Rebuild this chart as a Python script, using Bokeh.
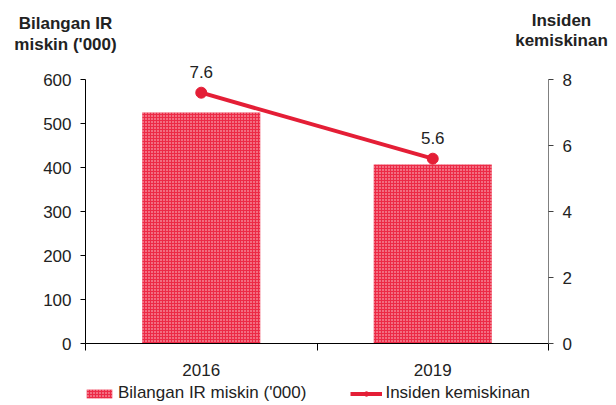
from bokeh.plotting import figure
from bokeh.models import (Range1d, LinearAxis, FixedTicker, Legend, LegendItem,
                          Label, LabelSet, ColumnDataSource)
from bokeh.core.properties import value
from bokeh.embed import file_html
from bokeh.resources import INLINE

categories = ["2016", "2019"]
bilangan = [525, 407]          # Bilangan IR miskin ('000)
insiden = [7.6, 5.6]           # Insiden kemiskinan (%)
left_ticks = [0, 100, 200, 300, 400, 500, 600]
right_ticks = [0, 2, 4, 6, 8]
left_title = ["Bilangan IR", "miskin ('000)"]
right_title = ["Insiden", "kemiskinan"]
legend_labels = ["Bilangan IR miskin ('000)", "Insiden kemiskinan"]

FONT = "Liberation Sans"
RED = "#e41e36"
TXT = "#222222"

W, H = 616, 405
# pixel layout of the plotting area (frame covers the whole canvas)
X0, X1 = 85, 548      # px of category range start/end
Y0, Y1 = 343, 79      # px of value 0 and of top tick

ncat = len(categories)
sx = (X1 - X0) / ncat
x_range = Range1d(-X0 / sx, ncat + (W - X1) / sx)
lspan = left_ticks[-1] - left_ticks[0]
ly = (Y0 - Y1) / lspan
y_range = Range1d(left_ticks[0] - (H - Y0) / ly, left_ticks[-1] + Y1 / ly)
rspan = right_ticks[-1] - right_ticks[0]
ry = (Y0 - Y1) / rspan
r_range = Range1d(right_ticks[0] - (H - Y0) / ry, right_ticks[-1] + Y1 / ry)

xpos = [i + 0.5 for i in range(ncat)]
src = ColumnDataSource(dict(x=xpos, cat=categories, bil=bilangan, ins=insiden,
                            lab=[f"{v:.1f}" for v in insiden]))

p = figure(width=W, height=H, output_backend="svg", toolbar_location=None,
           x_range=x_range, y_range=y_range,
           min_border=0, min_border_left=0, min_border_right=0,
           min_border_top=0, min_border_bottom=0)
p.outline_line_color = None
p.grid.visible = False
p.extra_y_ranges = {"pct": r_range}

bars = p.vbar(x="x", top="bil", width=0.51, source=src, fill_color="#ec2a46",
              line_color=None, hatch_pattern="dot", hatch_color="white",
              hatch_alpha=0.8, hatch_scale=3, hatch_weight=1.5)
ln = p.line(x="x", y="ins", source=src, y_range_name="pct", line_color=RED,
            line_width=4)
pts = p.scatter(x="x", y="ins", source=src, y_range_name="pct", size=11,
                fill_color=RED, line_color=RED)

labels = LabelSet(x="x", y="ins", text="lab", source=src, y_range_name="pct",
                  y_offset=15, text_align="center", text_baseline="alphabetic",
                  text_font=value(FONT), text_font_size="17px", text_color=TXT)
p.add_layout(labels)

# x axis (fixed at value 0)
xa = p.xaxis[0]
xa.fixed_location = 0
xa.bounds = (0, ncat)
xa.ticker = FixedTicker(ticks=xpos, minor_ticks=list(range(ncat + 1)))
xa.major_label_overrides = {x: c for x, c in zip(xpos, categories)}
xa.major_tick_out = 0
xa.major_tick_in = 0
xa.minor_tick_out = 7
xa.minor_tick_in = 0
xa.axis_line_color = "black"
xa.minor_tick_line_color = "black"
xa.major_label_standoff = 13
xa.major_label_text_font = FONT
xa.major_label_text_font_size = "17px"
xa.major_label_text_color = TXT

# left axis (fixed at category start)
ya = p.yaxis[0]
ya.fixed_location = 0
ya.ticker = FixedTicker(ticks=left_ticks)
ya.bounds = (left_ticks[0], left_ticks[-1])
ya.minor_tick_line_color = None
ya.major_tick_out = 5
ya.major_tick_in = 0
ya.axis_line_color = "black"
ya.major_tick_line_color = "black"
ya.major_label_standoff = 9
ya.major_label_text_font = FONT
ya.major_label_text_font_size = "17px"
ya.major_label_text_color = TXT

# right axis (fixed at category end)
ra = LinearAxis(y_range_name="pct", ticker=FixedTicker(ticks=right_ticks),
                bounds=(right_ticks[0], right_ticks[-1]), fixed_location=ncat)
ra.minor_tick_line_color = None
ra.major_tick_out = 5
ra.major_tick_in = 0
ra.axis_line_color = "#808080"
ra.major_tick_line_color = "#404040"
ra.major_label_standoff = 9
ra.major_label_text_font = FONT
ra.major_label_text_font_size = "17px"
ra.major_label_text_color = TXT
p.add_layout(ra, "right")

# axis titles (screen units: from canvas bottom-left)
for txt, base in zip(left_title, [23.3, 44.3]):
    p.add_layout(Label(x=65, y=H - base, x_units="screen", y_units="screen",
                       text=txt, text_font=FONT, text_font_size="17px",
                       text_font_style="bold", text_color=TXT,
                       text_align="center", text_baseline="alphabetic"))
for txt, base in zip(right_title, [20, 39.5]):
    p.add_layout(Label(x=561, y=H - base, x_units="screen", y_units="screen",
                       text=txt, text_font=FONT, text_font_size="17px",
                       text_font_style="bold", text_color=TXT,
                       text_align="center", text_baseline="alphabetic"))

legend = Legend(items=[LegendItem(label=legend_labels[0], renderers=[bars]),
                       LegendItem(label=legend_labels[1], renderers=[ln, pts])],
                location=(83, 2), orientation="horizontal", padding=0, margin=0,
                spacing=44, glyph_width=32, glyph_height=11, label_standoff=3,
                label_text_font=FONT, label_text_font_size="17px",
                label_text_color=TXT, border_line_color=None,
                background_fill_alpha=0)
p.add_layout(legend)

open("out.html", "w").write(file_html(p, INLINE))
